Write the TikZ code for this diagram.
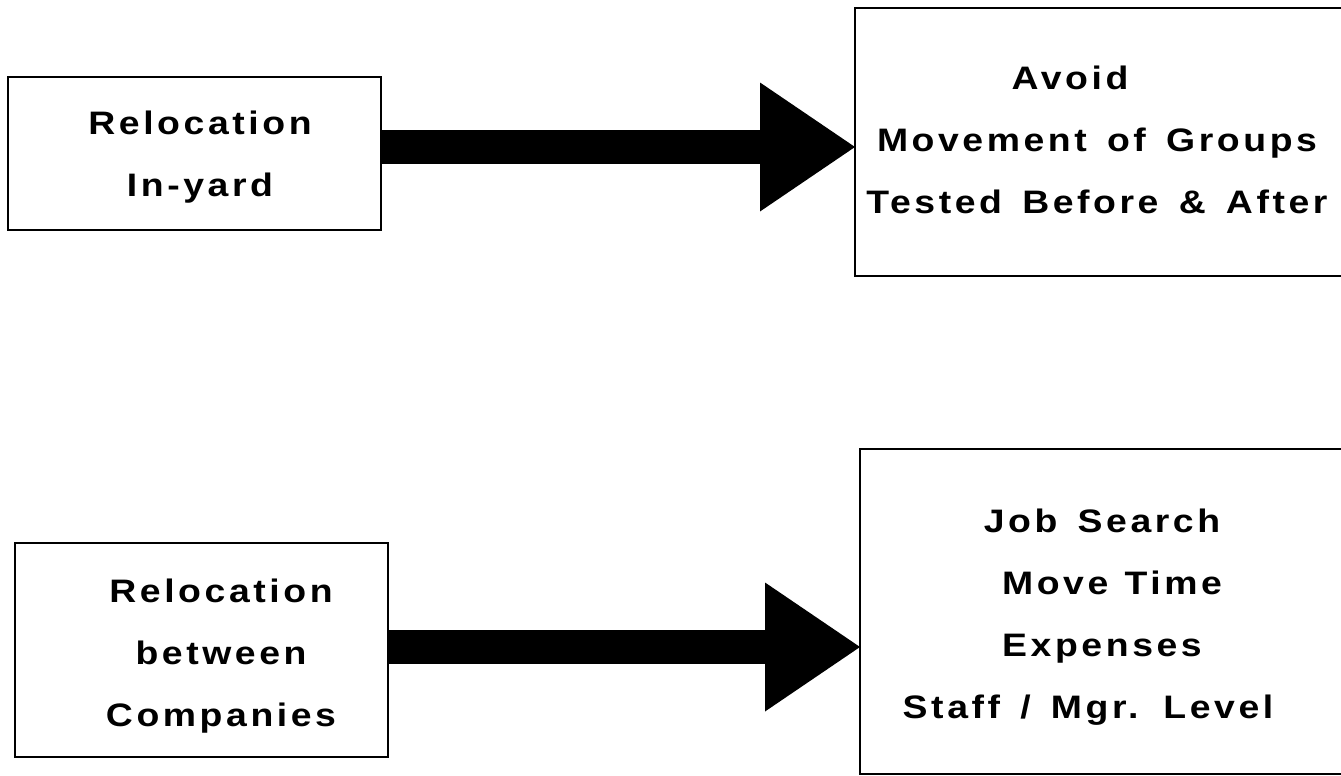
\documentclass[tikz,border=0pt]{standalone}
\usepackage{fontspec}
\newfontfamily\lab[FakeStretch=1.15,LetterSpace=11,WordSpace=1.45]{Liberation Sans}
\usetikzlibrary{arrows.meta}
\tikzset{
  box/.style={draw=black, line width=2.4pt, fill=none, inner sep=0pt, outer sep=0pt, rectangle},
  lbl/.style={align=center, inner sep=0pt, font=\lab\bfseries\fontsize{32.5}{62}\selectfont},
  fat/.style={line width=34pt, black, -{Triangle[length=95pt,width=129pt,line width=0pt]}}
}
\begin{document}
\begin{tikzpicture}[x=1pt,y=-1pt]
\useasboundingbox (0,0) rectangle (1341,776);
\fill[white] (0,0) rectangle (1341,776);
\clip (0,0) rectangle (1341,776);
% boxes
\node[box, minimum width=373pt, minimum height=153pt] (box1) at (194.5,153.5) {};
\node[box, minimum width=495pt, minimum height=268pt] (box2) at (1102.5,142) {};
\node[box, minimum width=373pt, minimum height=214pt] (box3) at (201.5,650) {};
\node[box, minimum width=490pt, minimum height=325pt] (box4) at (1105,611.5) {};
% texts
\node[lbl] (t1) at (200,157) {Relocation\\In-yard};
\node[lbl] (t2) at (1097,140) {Avoid\hspace*{54pt}\\Movement of Groups\\Tested Before \& After};
\node[lbl] (t3) at (221,656) {Relocation\\between\\Companies};
\node[lbl] (t4) at (1102,617) {Job Search\\\hspace*{20pt}Move\hspace{-4pt} Time\\Expenses\\Staff / Mgr. Level\hspace*{28pt}};
% connectors
\coordinate (a1) at (0,147);
\coordinate (a2) at (0,647);
\draw[fat] (box1.east |- a1) -- (box2.west |- a1);
\draw[fat] (box3.east |- a2) -- (box4.west |- a2);
\end{tikzpicture}
\end{document}
